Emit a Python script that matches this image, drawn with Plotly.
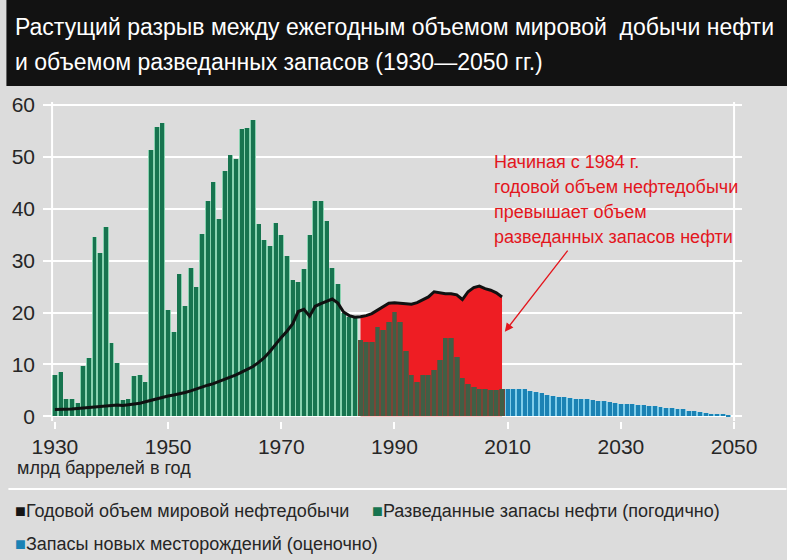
import plotly.graph_objects as go

# --- data ---
years_found = list(range(1930, 2010))
found = [7.9, 8.6, 3.3, 3.3, 2.5, 9.6, 11.3, 34.6, 31.4, 36.4,
         14.1, 10.2, 3.1, 3.4, 7.7, 7.9, 6.6, 51.3, 55.8, 56.6,
         20.5, 16.2, 27.4, 21.3, 28.6, 25.0, 35.1, 41.4, 45.2, 38.1,
         47.3, 50.4, 49.5, 55.3, 55.5, 57.0, 37.0, 34.0, 32.9, 37.2,
         34.9, 30.8, 26.3, 25.9, 28.4, 34.9, 41.5, 41.5, 37.7, 28.5,
         25.4, 20.0, 19.2, 18.9, 14.7, 14.3, 14.3, 17.2, 16.6, 18.2,
         20.1, 18.2, 12.5, 7.9, 6.6, 7.9, 7.9, 8.9, 10.8, 15.0,
         15.0, 11.4, 7.3, 6.3, 5.7, 5.3, 5.3, 5.0, 5.0, 5.3]

years_prod = list(range(1930, 2010))
production = [1.3, 1.3, 1.3, 1.4, 1.5, 1.6, 1.7, 1.9, 1.9, 2.0,
              2.1, 2.2, 2.1, 2.2, 2.4, 2.5, 2.8, 3.1, 3.4, 3.6,
              3.9, 4.1, 4.3, 4.6, 4.9, 5.3, 5.7, 6.0, 6.3, 6.7,
              7.1, 7.5, 8.0, 8.5, 9.0, 9.6, 10.4, 11.3, 12.5, 13.9,
              15.2, 16.4, 17.8, 20.2, 20.6, 19.3, 21.2, 21.7, 22.2, 22.6,
              21.8, 20.1, 19.4, 19.1, 19.2, 19.4, 19.8, 20.5, 21.2, 21.8,
              21.9, 21.8, 21.6, 21.6, 21.9, 22.4, 23.0, 24.0, 23.8, 23.6,
              23.6, 23.4, 22.5, 24.0, 24.8, 25.1, 24.6, 24.3, 23.8, 23.0]

years_new = list(range(2010, 2050))
new_fields = [5.3, 5.3, 5.3, 5.2, 4.9, 4.7, 4.4, 4.2, 3.9, 3.8,
              3.8, 3.5, 3.4, 3.4, 3.3, 3.1, 3.0, 2.9, 2.8, 2.5,
              2.4, 2.3, 2.3, 2.1, 2.1, 2.0, 1.9, 1.8, 1.7, 1.6,
              1.5, 1.4, 1.1, 1.0, 0.9, 0.7, 0.5, 0.45, 0.4, 0.35]

gap_start = 1984
tick_years = [1930, 1950, 1970, 1990, 2010, 2030, 2050]
y_ticks = [0, 10, 20, 30, 40, 50, 60]

title_lines = ["Растущий разрыв между ежегодным объемом мировой  добычи нефти",
               "и объемом разведанных запасов (1930\u20142050 гг.)"]
note_lines = ["Начиная с 1984 г.", "годовой объем нефтедобычи",
              "превышает объем", "разведанных запасов нефти"]
unit_label = "млрд баррелей в год"
legend_items = [("#151515", "Годовой объем мировой нефтедобычи"),
                ("#17744f", "Разведанные запасы нефти (погодично)"),
                ("#1b82b4", "Запасы новых месторождений (оценочно)")]

FONT = "Liberation Sans Narrow, Liberation Sans, Arial, sans-serif"
TXT = "#262626"

# plot area in pixels
L, R, T, B = 35, 742, 102, 421
W, H = 787, 560


def px(x):
    return (x - L) / (R - L)


def py(y):
    return (B - y) / (B - T)


# colours per bar
bar_col, gap_col = [], []
for yr in years_found:
    if yr < gap_start:
        bar_col.append("#17744f"); gap_col.append("#8ad2b0")
    else:
        bar_col.append("#405f46"); gap_col.append("#7a4536")

all_years = years_found + years_new
all_vals = found + new_fields
bar_col += ["#1b82b4"] * len(years_new)
gap_col += ["#80cdea"] * len(years_new)

fig = go.Figure()

# red gap area (production above discoveries)
red_x = [y for y in years_prod if y >= gap_start]
red_y = [v for y, v in zip(years_prod, production) if y >= gap_start]
fig.add_trace(go.Scatter(x=red_x, y=red_y, fill="tozeroy", mode="lines",
                         line=dict(width=0, color="#ee1d23"),
                         fillcolor="#ee1d23", hoverinfo="skip",
                         showlegend=False, yaxis="y"))

# bars: light full-width bars give the pale gaps, dark narrow bars on top
fig.add_trace(go.Bar(x=all_years, y=all_vals, width=1.0,
                     marker=dict(color=gap_col, line=dict(width=0)),
                     showlegend=False, yaxis="y2", hoverinfo="skip"))
fig.add_trace(go.Bar(x=all_years, y=all_vals, width=0.7,
                     marker=dict(color=bar_col, line=dict(width=0)),
                     showlegend=False, yaxis="y2"))

# production line
fig.add_trace(go.Scatter(x=years_prod, y=production, mode="lines",
                         line=dict(color="#111111", width=3),
                         showlegend=False, yaxis="y3"))

yr_range = [-0.9, 60.55]
fig.update_layout(
    width=W, height=H,
    margin=dict(l=L, r=W - R, t=T, b=H - B, pad=0),
    paper_bgcolor="#dcdcdc", plot_bgcolor="#dcdcdc",
    barmode="overlay", bargap=0,
    font=dict(family=FONT, color=TXT),
    xaxis=dict(range=[1927.9, 2051.4], tickvals=tick_years,
               ticks="outside", ticklen=7, tickwidth=2, tickcolor="white",
               showgrid=False, zeroline=False, showline=False,
               tickfont=dict(size=21, color=TXT, family=FONT)),
    yaxis=dict(range=yr_range, tickvals=y_ticks, showgrid=True,
               gridcolor="white", gridwidth=2, zeroline=False,
               ticks="", ticklabelstandoff=7,
               tickfont=dict(size=21, color=TXT, family=FONT)),
    yaxis2=dict(range=yr_range, overlaying="y", visible=False),
    yaxis3=dict(range=yr_range, overlaying="y", visible=False),
)

shapes = [
    # title band
    dict(type="rect", xref="paper", yref="paper", x0=px(-2), x1=px(W + 2),
         y0=py(86), y1=py(-2), fillcolor="#121212", line=dict(width=0),
         layer="below"),
    # separator above legend
    dict(type="line", xref="paper", yref="paper", x0=px(0), x1=px(W),
         y0=py(489), y1=py(489), line=dict(color="white", width=2)),
]
for xv in (1929.5, 2050):
    shapes.append(dict(type="line", xref="x", yref="paper", x0=xv, x1=xv,
                       y0=0, y1=1, line=dict(color="white", width=2),
                       layer="below"))
fig.update_layout(shapes=shapes)

ann = []
for i, line in enumerate(title_lines):
    ann.append(dict(xref="paper", yref="paper", x=px(5), y=py(27 + 35 * i),
                    xanchor="left", yanchor="middle", showarrow=False,
                    text=line, font=dict(size=23, color="white", family=FONT)))
for i, line in enumerate(note_lines):
    ann.append(dict(xref="paper", yref="paper", x=px(489), y=py(162 + 25 * i),
                    xanchor="left", yanchor="middle", showarrow=False,
                    text=line, font=dict(size=18, color="#e3161d", family=FONT)))
# arrow pointing at the red area
ann.append(dict(x=2009.5, y=16.3, ax=2020.8, ay=32.2, xref="x", yref="y",
                axref="x", ayref="y", text="", showarrow=True,
                arrowhead=2, arrowsize=1.3, arrowwidth=1.3, arrowcolor="#e3161d"))
ann.append(dict(xref="paper", yref="paper", x=px(7), y=py(468),
                xanchor="left", yanchor="middle", showarrow=False,
                text=unit_label, font=dict(size=18, color=TXT, family=FONT)))
leg_pos = [(5, 511), (366, 511), (5, 544)]
for (col, label), (lx, ly) in zip(legend_items, leg_pos):
    ann.append(dict(xref="paper", yref="paper", x=px(lx), y=py(ly),
                    xanchor="left", yanchor="middle", showarrow=False,
                    text=f"<span style='color:{col}'>\u25a0</span>{label}",
                    font=dict(size=18, color=TXT, family=FONT)))
fig.update_layout(annotations=ann)

# drop the page's default body margin so the figure sits at the window corner
fig.write_html("out.html", config={"displayModeBar": False},
               post_script="document.body.style.margin='0';"
                           "document.body.style.overflow='hidden';")
